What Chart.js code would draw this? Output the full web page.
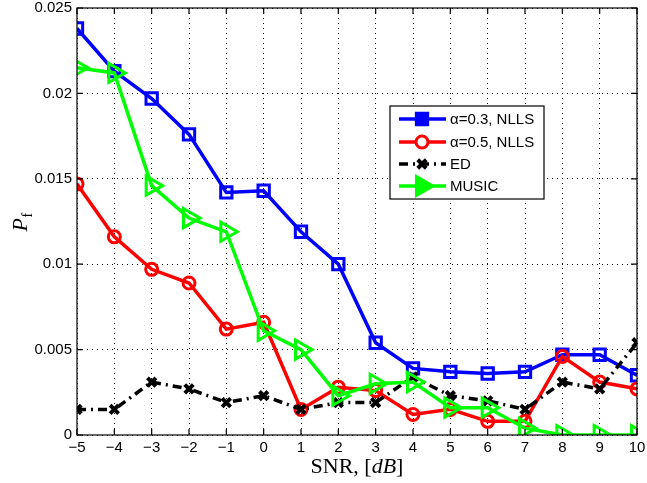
<!DOCTYPE html>
<html>
<head>
<meta charset="utf-8">
<script src="https://cdn.jsdelivr.net/npm/chart.js@4/dist/chart.umd.min.js"></script>
<style>
  html, body { margin: 0; padding: 0; background: #fff; }
  #wrap { width: 647px; height: 483px; }
</style>
</head>
<body>
<div id="wrap"><canvas id="c" width="647" height="483"></canvas></div>
<script>
// SNR axis (dB)
const snr = [-5, -4, -3, -2, -1, 0, 1, 2, 3, 4, 5, 6, 7, 8, 9, 10];
const yTicks = [0, 0.005, 0.01, 0.015, 0.02, 0.025];

// P_f for each method
const nlls03 = [0.0238, 0.0213, 0.0197, 0.0176, 0.0142, 0.0143, 0.0119, 0.0100, 0.0054, 0.0039, 0.0037, 0.0036, 0.0037, 0.0047, 0.0047, 0.0035];
const nlls05 = [0.0147, 0.0116, 0.0097, 0.0089, 0.0062, 0.0066, 0.0015, 0.0028, 0.0026, 0.0012, 0.0015, 0.0008, 0.0008, 0.0046, 0.0031, 0.0027];
const ed     = [0.0015, 0.0015, 0.0031, 0.0027, 0.0019, 0.0023, 0.0015, 0.0019, 0.0019, 0.0034, 0.0023, 0.0020, 0.0015, 0.0031, 0.0027, 0.0054];
const music  = [0.0215, 0.0212, 0.0146, 0.0127, 0.0119, 0.0061, 0.0050, 0.0023, 0.0030, 0.0031, 0.0016, 0.0016, 0.0004, 0.0000, 0.0000, 0.0000];

const labels = ['\u03b1=0.3, NLLS', '\u03b1=0.5, NLLS', 'ED', 'MUSIC'];

function pts(vals) {
    return snr.map(function (x, i) { return {x: x, y: vals[i]}; });
}

const sansFont = '"Liberation Sans", Arial, sans-serif';
const serifFont = '"Liberation Serif", "Times New Roman", serif';

const datasets = [
    {label: labels[0], data: pts(nlls03), borderColor: '#0000ff', borderWidth: 3.5,
        pointStyle: 'rect', pointRadius: 8, pointBorderWidth: 3, order: 3, legendFill: '#0000ff'},
    {label: labels[1], data: pts(nlls05), borderColor: '#ff0000', borderWidth: 3.5,
        pointStyle: 'circle', pointRadius: 6, pointBorderWidth: 3, order: 2, legendFill: '#ffffff'},
    {label: labels[2], data: pts(ed), borderColor: '#000000', borderWidth: 3.5,
        borderDash: [9, 5, 2, 5], pointStyle: 'crossRot', pointRadius: 6, pointBorderWidth: 4, order: 1, legendFill: '#000000'},
    {label: labels[3], data: pts(music), borderColor: '#00ff00', borderWidth: 3.5,
        pointStyle: 'triangle', pointRotation: 90, pointRadius: 11, pointBorderWidth: 3, order: 0, legendFill: '#00ff00'}
];
datasets.forEach(function (d) {
    d.backgroundColor = 'rgba(0,0,0,0)';
    d.pointBackgroundColor = 'rgba(0,0,0,0)';
    d.pointBorderColor = d.borderColor;
    d.tension = 0;
    d.fill = false;
});

//box, inward tick marks, axis titles and the legend, MATLAB style
const matlabFrame = {
    id: 'matlabFrame',
    afterDraw: function (chart) {
        const ctx = chart.ctx;
        const a = chart.chartArea;
        const xs = chart.scales.x, ys = chart.scales.y;
        ctx.save();
        ctx.strokeStyle = '#000';
        ctx.lineWidth = 1.2;
        ctx.setLineDash([]);
        ctx.strokeRect(a.left, a.top, a.right - a.left, a.bottom - a.top);
        ctx.beginPath();
        snr.forEach(function (v) {
            const px = xs.getPixelForValue(v);
            ctx.moveTo(px, a.bottom); ctx.lineTo(px, a.bottom - 6);
            ctx.moveTo(px, a.top); ctx.lineTo(px, a.top + 6);
        });
        yTicks.forEach(function (v) {
            const py = ys.getPixelForValue(v);
            ctx.moveTo(a.left, py); ctx.lineTo(a.left + 6, py);
            ctx.moveTo(a.right, py); ctx.lineTo(a.right - 6, py);
        });
        ctx.stroke();

        // x title: SNR, [dB]
        ctx.fillStyle = '#000';
        ctx.textBaseline = 'alphabetic';
        const p1 = 'SNR, [', p2 = 'dB', p3 = ']';
        const fs = 22;
        ctx.font = fs + 'px ' + serifFont;
        const w1 = ctx.measureText(p1).width, w3 = ctx.measureText(p3).width;
        ctx.font = 'italic ' + fs + 'px ' + serifFont;
        const w2 = ctx.measureText(p2).width;
        let tx = (a.left + a.right) / 2 - (w1 + w2 + w3) / 2 + 0;
        const ty = 473;
        ctx.font = fs + 'px ' + serifFont;
        ctx.textAlign = 'left';
        ctx.fillText(p1, tx, ty); tx += w1;
        ctx.font = 'italic ' + fs + 'px ' + serifFont;
        ctx.fillText(p2, tx, ty); tx += w2;
        ctx.font = fs + 'px ' + serifFont;
        ctx.fillText(p3, tx, ty);

        // y title: P_f
        ctx.save();
        ctx.translate(27, (a.top + a.bottom) / 2);
        ctx.rotate(-Math.PI / 2);
        ctx.font = 'italic 22px ' + serifFont;
        ctx.textAlign = 'left';
        ctx.fillText('P', -10, 0);
        ctx.font = '14px ' + serifFont;
        ctx.fillText('f', 4, 5);
        ctx.restore();

        // legend
        const lx = 390, ly = 106, lw = 154, lh = 93;
        ctx.fillStyle = '#fff';
        ctx.fillRect(lx, ly, lw, lh);
        ctx.strokeStyle = '#000';
        ctx.lineWidth = 1.2;
        ctx.strokeRect(lx, ly, lw, lh);
        const rows = [119, 142, 164, 186];
        chart.data.datasets.forEach(function (d, i) {
            const y = rows[i];
            ctx.save();
            ctx.strokeStyle = d.borderColor;
            ctx.lineWidth = d.borderWidth;
            ctx.setLineDash(d.borderDash || []);
            ctx.beginPath();
            ctx.moveTo(399, y); ctx.lineTo(446, y);
            ctx.stroke();
            ctx.setLineDash([]);
            ctx.lineWidth = d.pointBorderWidth;
            ctx.fillStyle = d.legendFill;
            Chart.helpers.drawPoint(ctx, {
                pointStyle: d.pointStyle, radius: d.pointRadius,
                rotation: d.pointRotation || 0, borderWidth: d.pointBorderWidth
            }, 422, y);
            ctx.restore();
            ctx.fillStyle = '#000';
            ctx.font = '15px ' + sansFont;
            ctx.textAlign = 'left';
            ctx.textBaseline = 'middle';
            ctx.fillText(d.label, 450, y + 1);
        });
        ctx.restore();
    }
};

new Chart(document.getElementById('c'), {
    type: 'line',
    data: {datasets: datasets},
    options: {
        responsive: false,
        animation: false,
        devicePixelRatio: 1,
        layout: {autoPadding: false, padding: {left: 0, right: 10, top: 8, bottom: 0}},
        plugins: {legend: {display: false}, tooltip: {enabled: false}},
        scales: {
            x: {
                type: 'linear', min: -5, max: 10,
                afterFit: function (s) { s.height = 48; },
                ticks: {
                    stepSize: 1, color: '#000', padding: 1,
                    font: {family: sansFont, size: 15, lineHeight: 1.6},
                    callback: function (v) { return String(v).replace('-', '\u2212'); }
                },
                grid: {color: '#000', lineWidth: 1, drawTicks: false},
                border: {display: false, dash: [1, 4]}
            },
            y: {
                min: 0, max: 0.025,
                afterFit: function (s) { s.width = 77; },
                ticks: {
                    stepSize: 0.005, color: '#000', padding: 5,
                    font: {family: sansFont, size: 15, lineHeight: 0.4},
                    callback: function (v) { return String(+v.toFixed(3)); }
                },
                grid: {color: '#000', lineWidth: 1, drawTicks: false},
                border: {display: false, dash: [1, 4]}
            }
        }
    },
    plugins: [matlabFrame]
});
</script>
</body>
</html>
